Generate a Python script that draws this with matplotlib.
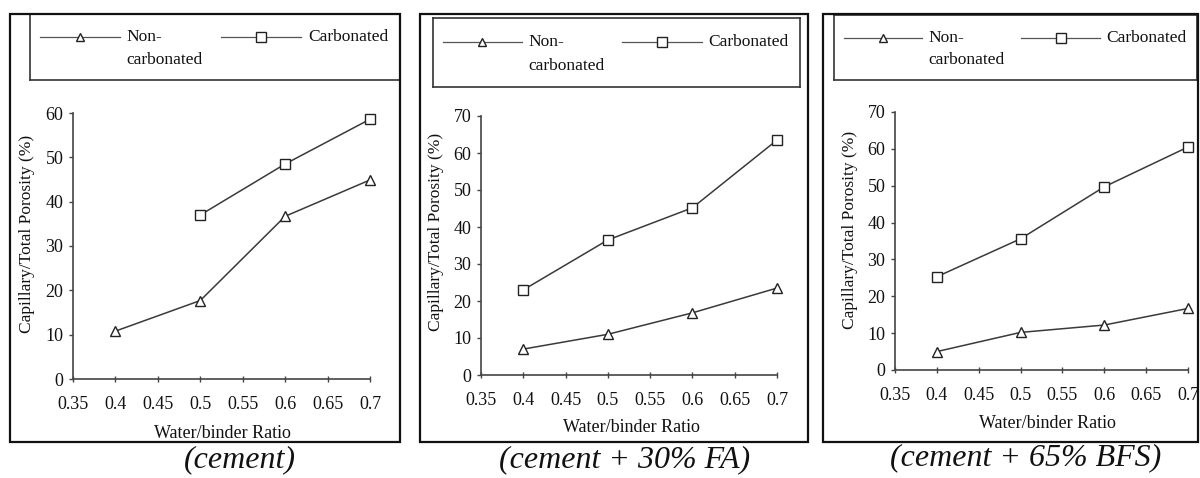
import matplotlib
matplotlib.use("Agg")
import matplotlib.pyplot as plt
from matplotlib.patches import Rectangle

plt.rcParams['font.family'] = ['Liberation Serif', 'DejaVu Serif']

# ---------------- data ----------------
x_ticks = [0.35, 0.4, 0.45, 0.5, 0.55, 0.6, 0.65, 0.7]
x_tick_labels = ["0.35", "0.4", "0.45", "0.5", "0.55", "0.6", "0.65", "0.7"]

x_nc_cement = [0.4, 0.5, 0.6, 0.7]
nc_cement = [10.8, 17.7, 36.7, 44.9]
x_c_cement = [0.5, 0.6, 0.7]
c_cement = [37.0, 48.5, 58.6]

x_nc_fa = [0.4, 0.5, 0.6, 0.7]
nc_fa = [7.0, 11.0, 16.8, 23.5]
x_c_fa = [0.4, 0.5, 0.6, 0.7]
c_fa = [23.0, 36.5, 45.2, 63.5]

x_nc_bfs = [0.4, 0.5, 0.6, 0.7]
nc_bfs = [5.0, 10.2, 12.2, 16.7]
x_c_bfs = [0.4, 0.5, 0.6, 0.7]
c_bfs = [25.3, 35.6, 49.7, 60.5]

y_max = [60, 70, 70]
captions = ["(cement)", "(cement + 30% FA)", "(cement + 65% BFS)"]
label_nc = "Non-"
label_nc2 = "carbonated"
label_c = "Carbonated"
x_label = "Water/binder Ratio"
y_label = "Capillary/Total Porosity (%)"

# ---------------- layout (pixels) ----------------
W, H = 1200, 478
fig = plt.figure(figsize=(W / 100, H / 100), dpi=100)


def fx(px):
    return px / W


def fy(py):
    return 1 - py / H


panels = [
    dict(frame=(10, 14, 400, 442), leg=(30, 14, 400, 80),
         ax=(73, 113, 370, 379), ylab=(27, 234), xlab=(222, 433), cap=(240, 460),
         xnc=x_nc_cement, nc=nc_cement, xc=x_c_cement, c=c_cement),
    dict(frame=(420, 14, 808, 442), leg=(433, 18, 800, 87),
         ax=(481, 116, 777, 375), ylab=(436, 232), xlab=(631, 428), cap=(625, 460),
         xnc=x_nc_fa, nc=nc_fa, xc=x_c_fa, c=c_fa),
    dict(frame=(823, 14, 1198, 442), leg=(834, 15, 1197, 80),
         ax=(895, 112, 1188, 370), ylab=(850, 230), xlab=(1047, 423), cap=(1026, 458),
         xnc=x_nc_bfs, nc=nc_bfs, xc=x_c_bfs, c=c_bfs),
]

line_col = "#3a3a3a"
mk_edge = "#222222"
txt_col = "#111111"

for i, p in enumerate(panels):
    # outer frame
    x0, y0, x1, y1 = p["frame"]
    fig.patches.append(Rectangle((fx(x0), fy(y1)), fx(x1 - x0), (y1 - y0) / H,
                                 transform=fig.transFigure, fill=False,
                                 edgecolor="#111111", linewidth=1.6, zorder=0))

    # legend box
    l0, t0, l1, t1 = p["leg"]
    lax = fig.add_axes([fx(l0), fy(t1), fx(l1 - l0), (t1 - t0) / H])
    lax.set_xlim(0, 1)
    lax.set_ylim(0, 1)
    lax.set_xticks([])
    lax.set_yticks([])
    for s in lax.spines.values():
        s.set_color("#333333")
        s.set_linewidth(1.2)
    ly = 0.645
    lax.plot([0.028, 0.242], [ly, ly], color="#555555", lw=0.9)
    lax.plot([0.134], [ly], marker="^", ms=5.5, mfc="white", mec=mk_edge, mew=1.0, ls="none")
    lax.text(0.26, ly, label_nc, fontsize=12.5, va="center", ha="left", color=txt_col)
    lax.text(0.26, 0.31, label_nc2, fontsize=12.5, va="center", ha="left", color=txt_col)
    lax.plot([0.516, 0.733], [ly, ly], color="#555555", lw=0.9)
    lax.plot([0.624], [ly], marker="s", ms=7, mfc="white", mec=mk_edge, mew=1.0, ls="none")
    lax.text(0.751, ly, label_c, fontsize=12.5, va="center", ha="left", color=txt_col)

    # data axes
    a0, b0, a1, b1 = p["ax"]
    ax = fig.add_axes([fx(a0), fy(b1), fx(a1 - a0), (b1 - b0) / H])
    ax.plot(p["xnc"], p["nc"], color=line_col, lw=1.1, marker="^", ms=7,
            mfc="white", mec=mk_edge, mew=1.0, clip_on=False, zorder=3)
    ax.plot(p["xc"], p["c"], color=line_col, lw=1.1, marker="s", ms=7.5,
            mfc="white", mec=mk_edge, mew=1.0, clip_on=False, zorder=3)
    ax.set_xlim(0.35, 0.7)
    ax.set_ylim(0, y_max[i])
    ax.set_xticks(x_ticks)
    ax.set_xticklabels(x_tick_labels)
    ax.set_yticks(range(0, y_max[i] + 1, 10))
    for s in ["top", "right"]:
        ax.spines[s].set_visible(False)
    for s in ["left", "bottom"]:
        ax.spines[s].set_color("#444444")
        ax.spines[s].set_linewidth(1.2)
    ax.tick_params(axis="x", direction="inout", length=4, width=1, color="#444444",
                   pad=10, labelsize=13, labelcolor=txt_col)
    ax.tick_params(axis="y", direction="out", length=3, width=1, color="#444444",
                   pad=4, labelsize=13, labelcolor=txt_col)
    ax.patch.set_alpha(0)

    # axis labels
    fig.text(fx(p["ylab"][0]), fy(p["ylab"][1]), y_label, rotation=90,
             ha="center", va="center", fontsize=12.5, color=txt_col)
    fig.text(fx(p["xlab"][0]), fy(p["xlab"][1]), x_label,
             ha="center", va="center", fontsize=13, color=txt_col)

    # caption
    fig.text(fx(p["cap"][0]), fy(p["cap"][1]), captions[i], ha="center", va="center",
             fontsize=23, style="italic", color="#111111")

fig.savefig("out.png", dpi=100, facecolor="white")
